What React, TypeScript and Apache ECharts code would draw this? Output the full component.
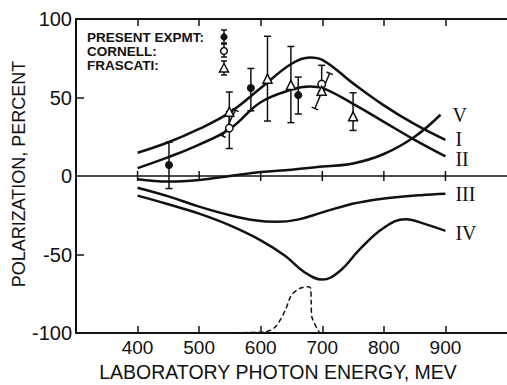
import React, { useEffect, useRef } from "react";
import * as echarts from "echarts";

// ---- axis ticks ----
const xTicks = [400, 500, 600, 700, 800, 900];
const yTicks = [-100, -50, 0, 50, 100];
const yInnerTicks = [-50, 50];

// ---- theoretical curves ----
const energyI = [400, 450, 500, 550, 600, 650, 680, 700, 750, 800, 850, 900];
const curveI = [14.8, 21.5, 30, 40.5, 56, 71.5, 75.5, 74, 59, 45, 33, 23];
const energyII = [400, 450, 500, 550, 600, 650, 680, 700, 750, 800, 850, 900];
const curveII = [5, 12, 20, 30, 47, 55, 57, 56, 46, 34.5, 23, 12.5];
const energyIII = [400, 450, 500, 550, 590, 625, 660, 700, 740, 780, 820, 860, 900];
const curveIII = [-7.5, -13, -19.5, -25, -28.2, -29.2, -27.8, -23.2, -18.6, -15.5, -13.5, -12.2, -11.3];
const energyIV = [400, 450, 500, 550, 600, 640, 670, 700, 730, 760, 800, 835, 870, 900];
const curveIV = [-12.5, -18, -24, -31.5, -41, -51, -61, -66, -60, -47, -33, -27.5, -31, -35];
const energyV = [400, 450, 500, 550, 600, 650, 700, 750, 800, 850, 892];
const curveV = [-2, -3.5, -2.5, 0, 2.5, 4, 6, 8, 14, 25, 39];
// dashed curve near the bottom
const energyDash = [557, 608, 624, 640, 650, 664, 677, 681, 682, 683, 696];
const curveDash = [-99.8, -99.2, -96, -85.4, -75.8, -71.5, -70.5, -71.5, -81, -89.6, -100];

// ---- measurements ----
const presentE = [451, 584, 661];
const presentP = [7, 56, 51.5];
const presentLow = [-8, 41.5, 39.5];
const presentHigh = [21.5, 68.5, 63];

const cornellE = [549, 699];
const cornellP = [30.5, 58.5];
const cornellLow = [17.5, 54.3];
const cornellHigh = [41, 70.5];

const frascatiE = [549, 611, 649, 699, 750];
const frascatiP = [41, 62, 58, 54.3, 38];
const frascatiLow = [30.5, 35, 34, 54.3, 29];
const frascatiHigh = [53.5, 89, 82.5, 54.3, 53];

// slanted bars: [E1, P1, E2, P2]
const slantE1 = [538, 688];
const slantP1 = [25.5, 43];
const slantE2 = [559, 712];
const slantP2 = [42, 65.4];

const FONT = "Liberation Sans";
const INK = "#111";

function zip(a: number[], b: number[]) {
  return a.map((v, i) => [v, b[i]]);
}

function errorBars(E: number[], lo: number[], hi: number[]) {
  return {
    type: "custom",
    z: 3,
    clip: false,
    silent: true,
    encode: { x: 0, y: [1, 2] },
    data: E.map((e, i) => [e, lo[i], hi[i]]),
    renderItem: (_p: any, api: any) => {
      const l = api.value(1);
      const h = api.value(2);
      if (l === h) return { type: "group", children: [] };
      const a = api.coord([api.value(0), h]);
      const b = api.coord([api.value(0), l]);
      const w = 3.5;
      const st = { stroke: INK, lineWidth: 1.5 };
      return {
        type: "group",
        children: [
          { type: "line", shape: { x1: a[0], y1: a[1], x2: b[0], y2: b[1] }, style: st },
          { type: "line", shape: { x1: a[0] - w, y1: a[1], x2: a[0] + w, y2: a[1] }, style: st },
          { type: "line", shape: { x1: b[0] - w, y1: b[1], x2: b[0] + w, y2: b[1] }, style: st },
        ],
      };
    },
  };
}

function curve(name: string, E: number[], P: number[], offset: number[]) {
  return {
    type: "line",
    name,
    data: zip(E, P),
    smooth: 0.4,
    showSymbol: false,
    silent: true,
    z: 2,
    lineStyle: { color: INK, width: 2.5 },
    endLabel: {
      show: true,
      formatter: name,
      color: INK,
      fontFamily: "Liberation Serif",
      fontSize: 20,
      offset,
    },
  };
}

export default function App() {
  const ref = useRef<HTMLDivElement>(null);
  useEffect(() => {
    if (!ref.current) return;
    const chart = echarts.init(ref.current, null, { renderer: "svg" });
    const axisLine = { show: true, onZero: false, lineStyle: { color: INK, width: 2 } };
    const option: any = {
      animation: false,
      backgroundColor: "#fff",
      grid: { left: 76, top: 19, right: -8, bottom: 52, containLabel: false },
      xAxis: [
        {
          type: "value",
          min: 300,
          max: 1000,
          position: "bottom",
          axisLine,
          splitLine: { show: false },
          axisTick: { show: true, inside: true, length: 7, customValues: xTicks, lineStyle: { color: INK, width: 1.5 } },
          axisLabel: { show: true, customValues: xTicks, color: INK, fontSize: 19, fontFamily: FONT, margin: 5 },
        },
        {
          type: "value",
          min: 300,
          max: 1000,
          position: "top",
          axisLine,
          splitLine: { show: false },
          axisTick: { show: true, inside: true, length: 7, customValues: xTicks, lineStyle: { color: INK, width: 1.5 } },
          axisLabel: { show: false },
        },
      ],
      yAxis: {
        type: "value",
        min: -100,
        max: 100,
        axisLine,
        splitLine: { show: false },
        axisTick: { show: true, inside: true, length: 8, customValues: yInnerTicks, lineStyle: { color: INK, width: 1.5 } },
        axisLabel: { show: true, customValues: yTicks, color: INK, fontSize: 20, fontFamily: FONT, margin: 4 },
      },
      graphic: [
        {
          type: "text",
          x: 278,
          y: 371.5,
          style: {
            text: "LABORATORY PHOTON ENERGY, MEV",
            fill: INK,
            font: `19.5px "${FONT}"`,
            textAlign: "center",
            textVerticalAlign: "middle",
          },
        },
        {
          type: "text",
          x: 19,
          y: 174,
          rotation: Math.PI / 2,
          style: {
            text: "POLARIZATION, PERCENT",
            fill: INK,
            font: `18px "${FONT}"`,
            textAlign: "center",
            textVerticalAlign: "middle",
          },
        },
        // legend
        ...["PRESENT EXPMT:", "CORNELL:", "FRASCATI:"].map((t, i) => ({
          type: "text",
          x: 87,
          y: [37, 51.5, 65.5][i],
          style: {
            text: t,
            fill: INK,
            font: `bold 13.5px "${FONT}"`,
            textAlign: "left",
            textVerticalAlign: "middle",
          },
        })),
        ...[
          [30, 43],
          [44, 57],
          [61, 75],
        ].flatMap(([a, b]) => [
          { type: "line", shape: { x1: 224, y1: a, x2: 224, y2: b }, style: { stroke: INK, lineWidth: 1.5 } },
          { type: "line", shape: { x1: 221, y1: a, x2: 227, y2: a }, style: { stroke: INK, lineWidth: 1.5 } },
          { type: "line", shape: { x1: 221, y1: b, x2: 227, y2: b }, style: { stroke: INK, lineWidth: 1.5 } },
        ]),
        { type: "circle", shape: { cx: 224, cy: 37, r: 3.6 }, style: { fill: INK }, z: 10 },
        { type: "circle", shape: { cx: 224, cy: 51, r: 3.4 }, style: { fill: "#fff", stroke: INK, lineWidth: 1.5 }, z: 10 },
        {
          type: "polygon",
          shape: { points: [[224, 63.5], [228.5, 72], [219.5, 72]] },
          style: { fill: "#fff", stroke: INK, lineWidth: 1.5 },
          z: 10,
        },
      ],
      series: [
        {
          ...curve("I", energyI, curveI, [2, -1]),
          markLine: {
            silent: true,
            symbol: "none",
            label: { show: false },
            lineStyle: { color: INK, width: 1.5, type: "solid" },
            data: [{ yAxis: 0 }],
          },
        },
        curve("II", energyII, curveII, [2, 3]),
        curve("III", energyIII, curveIII, [2, 0]),
        curve("IV", energyIV, curveIV, [2, 2]),
        curve("V", energyV, curveV, [4, 0]),
        {
          type: "line",
          data: zip(energyDash, curveDash),
          smooth: 0.3,
          showSymbol: false,
          silent: true,
          lineStyle: { color: INK, width: 1.5, type: [5, 3] },
        },
        {
          type: "scatter",
          data: xTicks.map((e) => [e, 0]),
          symbol: "rect",
          symbolSize: [1.5, 10],
          itemStyle: { color: INK, opacity: 1 },
          silent: true,
        },
        errorBars(presentE, presentLow, presentHigh),
        errorBars(cornellE, cornellLow, cornellHigh),
        errorBars(frascatiE, frascatiLow, frascatiHigh),
        {
          type: "custom",
          z: 3,
          clip: false,
          silent: true,
          encode: { x: [0, 2], y: [1, 3] },
          data: slantE1.map((e, i) => [e, slantP1[i], slantE2[i], slantP2[i]]),
          renderItem: (_p: any, api: any) => {
            const a = api.coord([api.value(0), api.value(1)]);
            const b = api.coord([api.value(2), api.value(3)]);
            const dx = b[0] - a[0];
            const dy = b[1] - a[1];
            const len = Math.sqrt(dx * dx + dy * dy);
            const nx = (-dy / len) * 3.5;
            const ny = (dx / len) * 3.5;
            const st = { stroke: INK, lineWidth: 1.5 };
            return {
              type: "group",
              children: [
                { type: "line", shape: { x1: a[0], y1: a[1], x2: b[0], y2: b[1] }, style: st },
                { type: "line", shape: { x1: a[0] - nx, y1: a[1] - ny, x2: a[0] + nx, y2: a[1] + ny }, style: st },
                { type: "line", shape: { x1: b[0] - nx, y1: b[1] - ny, x2: b[0] + nx, y2: b[1] + ny }, style: st },
              ],
            };
          },
        },
        {
          type: "scatter",
          z: 5,
          data: zip(presentE, presentP),
          symbol: "circle",
          symbolSize: 8,
          itemStyle: { color: INK, opacity: 1 },
          silent: true,
        },
        {
          type: "scatter",
          z: 5,
          data: zip(cornellE, cornellP),
          symbol: "circle",
          symbolSize: 7.5,
          itemStyle: { color: "#fff", borderColor: INK, borderWidth: 1.5, opacity: 1 },
          silent: true,
        },
        {
          type: "scatter",
          z: 5,
          data: zip(frascatiE, frascatiP),
          symbol: "triangle",
          symbolSize: [9, 9],
          itemStyle: { color: "#fff", borderColor: INK, borderWidth: 1.5, opacity: 1 },
          silent: true,
        },
      ],
    };
    chart.setOption(option);
    return () => chart.dispose();
  }, []);
  return (
    <div
      ref={ref}
      style={{ position: "absolute", left: 0, top: 0, width: 507, height: 385, background: "#fff" }}
    />
  );
}
